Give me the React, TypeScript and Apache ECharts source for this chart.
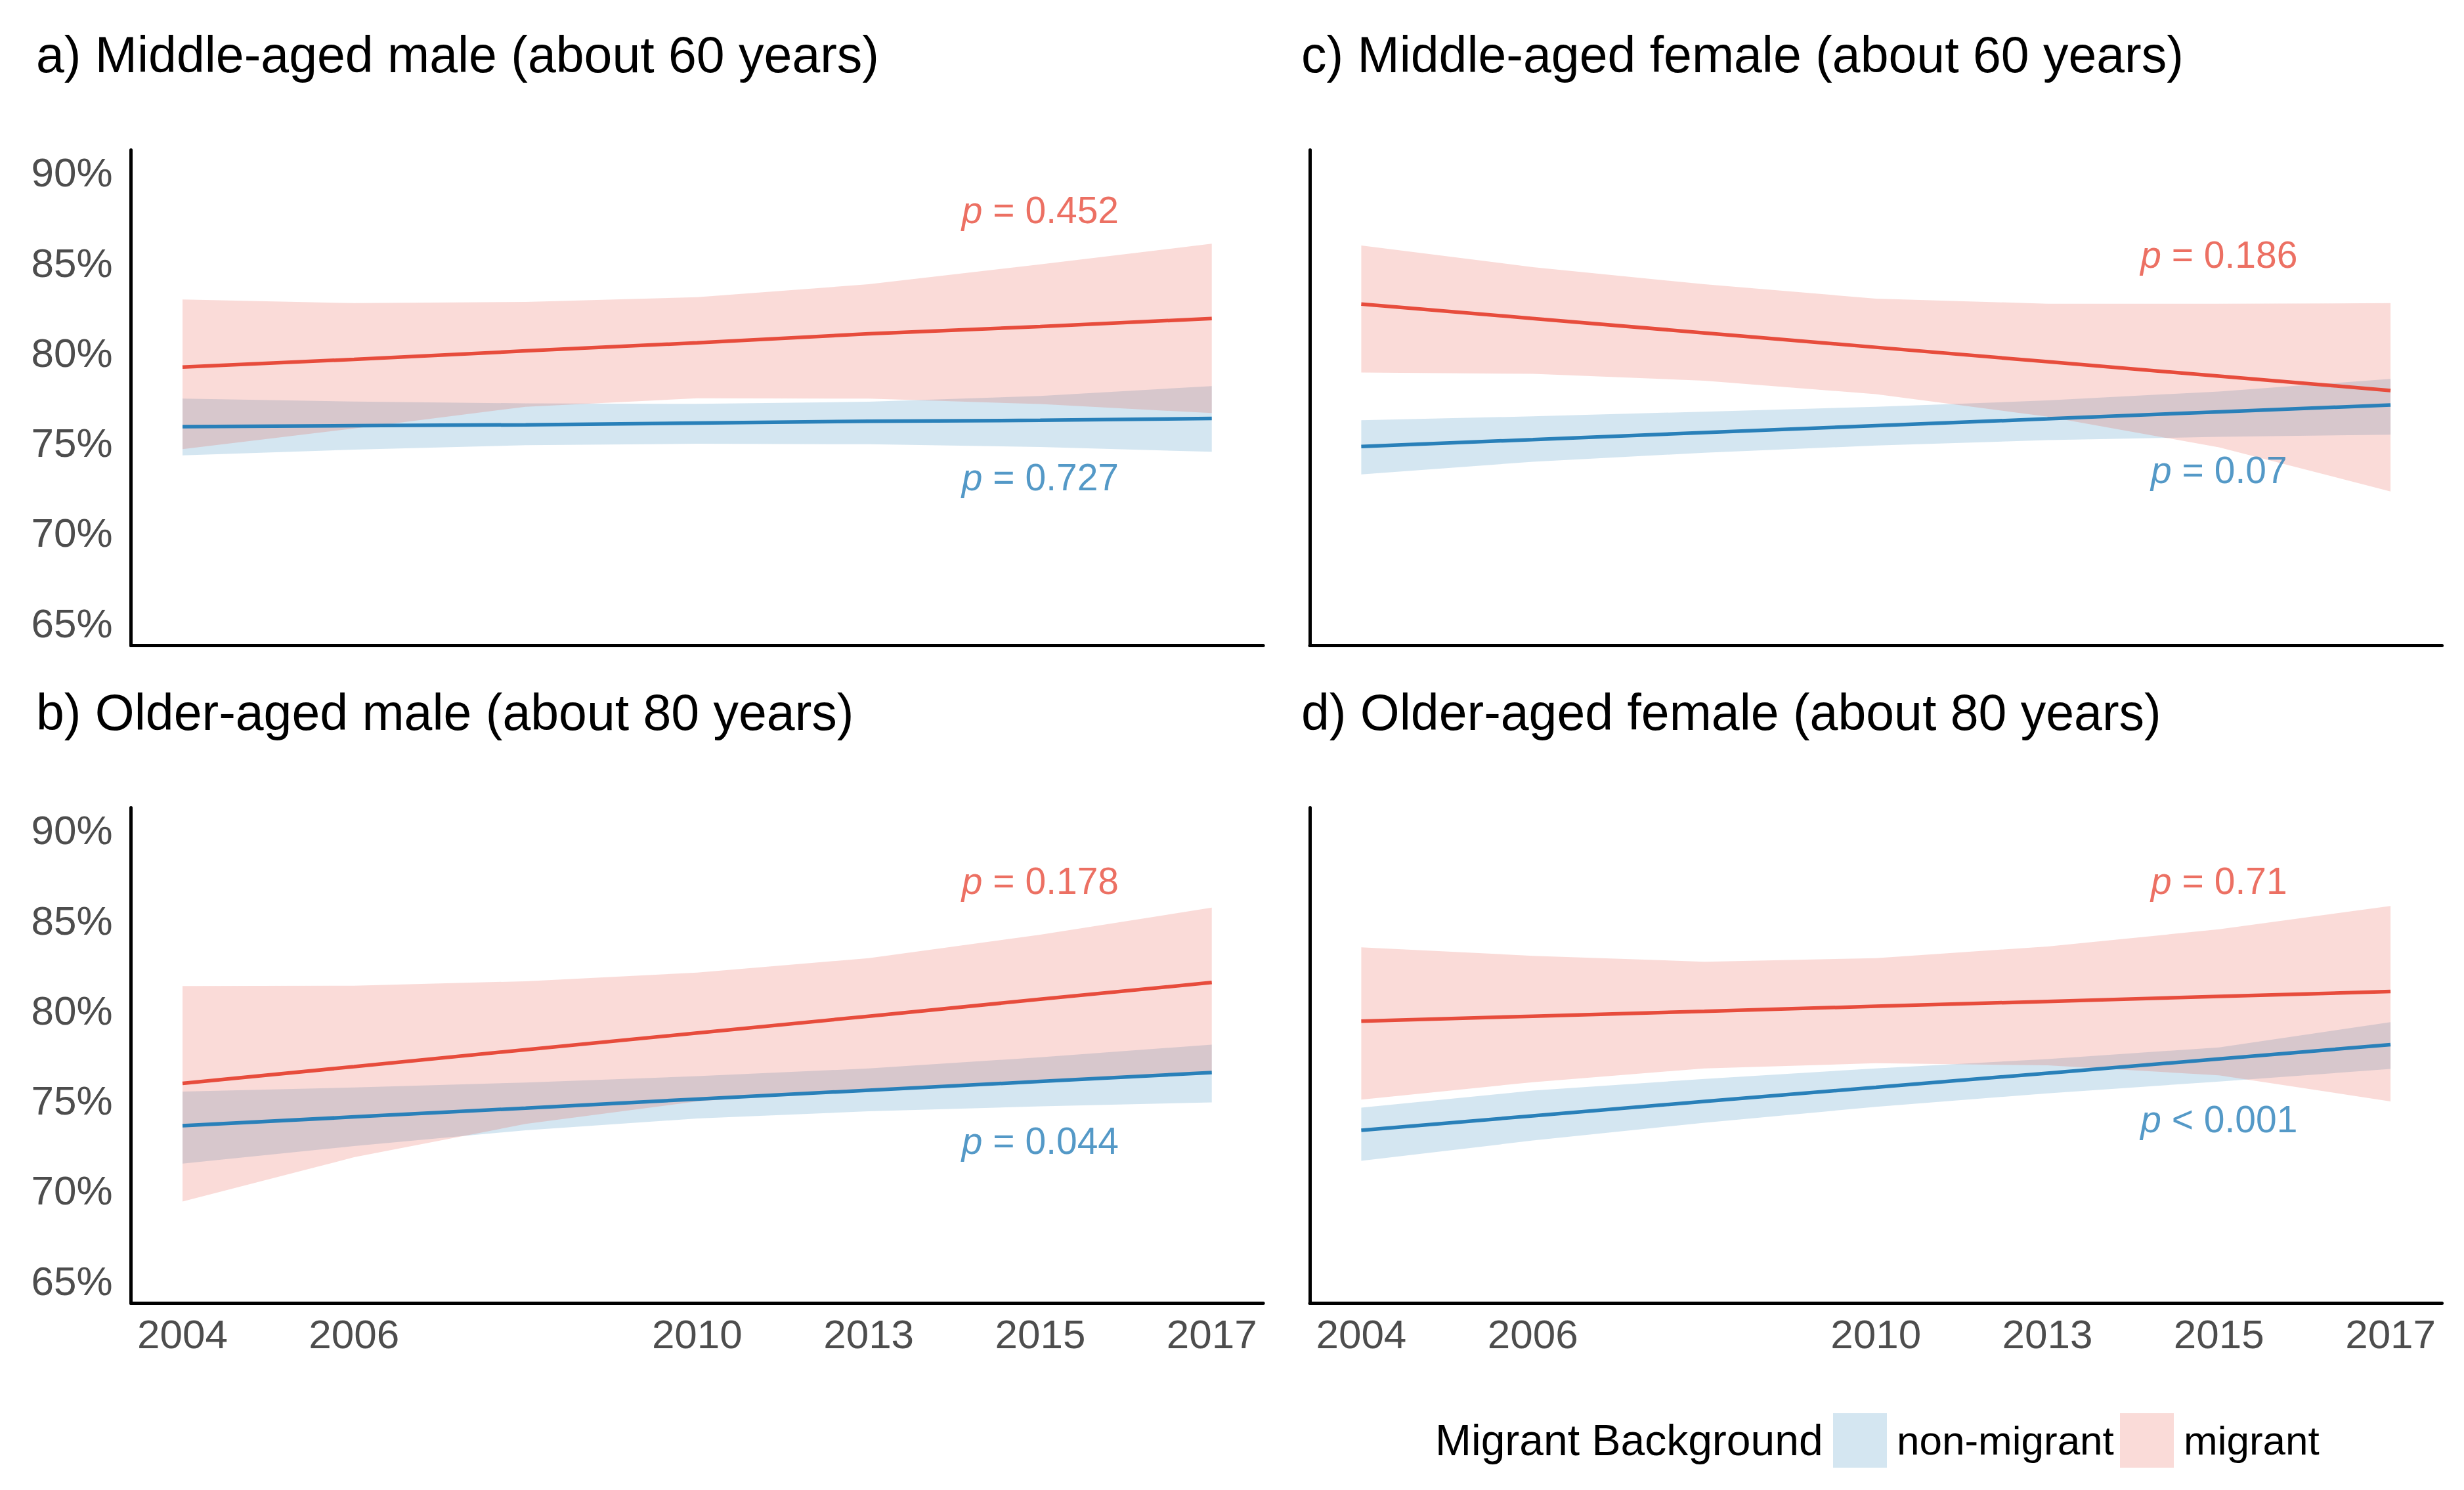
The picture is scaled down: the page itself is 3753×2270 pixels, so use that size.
import React, { useEffect, useRef } from "react";
import * as echarts from "echarts";

// ---------- data ----------
// x positions are survey-wave positions (equally spaced); wave 3 is unlabelled
const waves = [0, 1, 2, 3, 4, 5, 6];
const xTickPos = [0, 1, 3, 4, 5, 6];
const xTickLabels = ["2004", "2006", "2010", "2013", "2015", "2017"];
const yTicks = [65, 70, 75, 80, 85, 90];

// a) Middle-aged male
const aNonMean = [75.9, 75.95, 76.0, 76.1, 76.2, 76.25, 76.35];
const aNonLo = [74.3, 74.62, 74.87, 74.95, 74.92, 74.77, 74.5];
const aNonHi = [77.45, 77.29, 77.19, 77.16, 77.28, 77.6, 78.15];
const aMigMean = [79.2, 79.63, 80.1, 80.55, 81.05, 81.45, 81.9];
const aMigLo = [74.65, 75.8, 77.0, 77.47, 77.45, 77.15, 76.65];
const aMigHi = [82.95, 82.75, 82.82, 83.08, 83.8, 84.9, 86.05];

// b) Older-aged male
const bNonMean = [73.6, 74.09, 74.58, 75.08, 75.57, 76.06, 76.55];
const bNonLo = [71.5, 72.47, 73.35, 74.0, 74.4, 74.68, 74.9];
const bNonHi = [75.5, 75.72, 76.0, 76.35, 76.78, 77.4, 78.1];
const bMigMean = [75.95, 76.88, 77.82, 78.75, 79.68, 80.62, 81.55];
const bMigLo = [69.4, 71.85, 73.7, 74.95, 75.65, 76.15, 76.55];
const bMigHi = [81.35, 81.37, 81.62, 82.1, 82.9, 84.2, 85.7];

// c) Middle-aged female
const cNonMean = [74.8, 75.18, 75.57, 75.95, 76.33, 76.72, 77.1];
const cNonLo = [73.25, 73.95, 74.45, 74.85, 75.15, 75.33, 75.45];
const cNonHi = [76.25, 76.47, 76.73, 77.0, 77.35, 77.85, 78.55];
const cMigMean = [82.7, 81.9, 81.1, 80.3, 79.5, 78.7, 77.9];
const cMigLo = [78.9, 78.83, 78.45, 77.7, 76.45, 74.75, 72.3];
const cMigHi = [85.95, 84.75, 83.8, 83.0, 82.72, 82.72, 82.75];

// d) Older-aged female
const dNonMean = [73.35, 74.15, 74.95, 75.73, 76.52, 77.31, 78.1];
const dNonLo = [71.65, 72.78, 73.77, 74.65, 75.4, 76.05, 76.75];
const dNonHi = [74.6, 75.55, 76.2, 76.78, 77.3, 77.95, 79.35];
const dMigMean = [79.4, 79.68, 79.95, 80.23, 80.5, 80.78, 81.05];
const dMigLo = [75.05, 76.02, 76.78, 77.07, 76.95, 76.4, 74.95];
const dMigHi = [83.5, 83.03, 82.7, 82.9, 83.55, 84.5, 85.8];

// p-value annotations: [text after italic p, y-value]
const pLabelX = 5;
const aPMig = ["= 0.452", 87.9];
const aPNon = ["= 0.727", 73.1];
const bPMig = ["= 0.178", 87.2];
const bPNon = ["= 0.044", 72.75];
const cPMig = ["= 0.186", 85.45];
const cPNon = ["= 0.07", 73.5];
const dPMig = ["= 0.71", 87.2];
const dPNon = ["< 0.001", 73.95];

const titles = [
  "a) Middle-aged male (about 60 years)",
  "b) Older-aged male (about 80 years)",
  "c) Middle-aged female (about 60 years)",
  "d) Older-aged female (about 80 years)",
];
const legendTitle = "Migrant Background";
const legendNames = ["non-migrant", "migrant"];

// ---------- styles ----------
const FONT = "'Liberation Sans', Arial, Helvetica, sans-serif";
const RED = "#E74C3C";
const BLUE = "#2980B9";
const RED_FILL = "rgba(231,76,60,0.2)";
const BLUE_FILL = "rgba(41,128,185,0.2)";

const panels = [
  { title: titles[0], left: 199.6, top: 228.5, showX: false, showY: true, nonMean: aNonMean, nonLo: aNonLo, nonHi: aNonHi, migMean: aMigMean, migLo: aMigLo, migHi: aMigHi, pMig: aPMig, pNon: aPNon, tx: 55, ty: 83 },
  { title: titles[1], left: 199.6, top: 1230.5, showX: true, showY: true, nonMean: bNonMean, nonLo: bNonLo, nonHi: bNonHi, migMean: bMigMean, migLo: bMigLo, migHi: bMigHi, pMig: bPMig, pNon: bPNon, tx: 55, ty: 1085 },
  { title: titles[2], left: 1995, top: 228.5, showX: false, showY: false, nonMean: cNonMean, nonLo: cNonLo, nonHi: cNonHi, migMean: cMigMean, migLo: cMigLo, migHi: cMigHi, pMig: cPMig, pNon: cPNon, tx: 1982, ty: 83 },
  { title: titles[3], left: 1995, top: 1230.5, showX: true, showY: false, nonMean: dNonMean, nonLo: dNonLo, nonHi: dNonHi, migMean: dMigMean, migLo: dMigLo, migHi: dMigHi, pMig: dPMig, pNon: dPNon, tx: 1982, ty: 1085 },
];
const PW = 1724.5;
const PH = 755;

function band(i: number, lo: number[], hi: number[], fill: string, name: string) {
  return {
    type: "custom",
    name,
    xAxisIndex: i,
    yAxisIndex: i,
    coordinateSystem: "cartesian2d",
    silent: true,
    z: 1,
    data: waves.map((w, k) => [w, lo[k], hi[k]]),
    encode: { x: 0, y: [1, 2] },
    renderItem: (params: any, api: any) => {
      if (params.dataIndex !== 0) return null;
      const top = waves.map((w, k) => api.coord([w, hi[k]]));
      const bot = waves.map((w, k) => api.coord([w, lo[k]])).reverse();
      return {
        type: "polygon",
        shape: { points: top.concat(bot) },
        style: { fill, stroke: null },
      };
    },
  };
}

function line(i: number, vals: number[], color: string, name: string) {
  return {
    type: "line",
    name,
    xAxisIndex: i,
    yAxisIndex: i,
    data: waves.map((w, k) => [w, vals[k]]),
    showSymbol: false,
    symbol: "none",
    silent: true,
    z: 3,
    lineStyle: { color, width: 5.5 },
  };
}

function pLabels(i: number, pMig: any[], pNon: any[]) {
  const mk = (p: any[], color: string) => ({
    value: [pLabelX, p[1]],
    label: {
      show: true,
      position: "inside",
      formatter: "{i|p} " + p[0],
      color,
      fontSize: 57,
      fontFamily: FONT,
      rich: { i: { fontStyle: "italic", color, fontSize: 57, fontFamily: FONT } },
    },
  });
  return {
    type: "scatter",
    xAxisIndex: i,
    yAxisIndex: i,
    symbolSize: 1,
    silent: true,
    z: 4,
    itemStyle: { color: "transparent" },
    data: [mk(pMig, RED), mk(pNon, BLUE)],
  };
}

export default function App() {
  const ref = useRef<HTMLDivElement>(null);
  useEffect(() => {
    if (!ref.current) return;
    const chart = echarts.init(ref.current, null, { renderer: "svg" });
    const series: any[] = [];
    panels.forEach((p, i) => {
      series.push(band(i, p.nonLo, p.nonHi, BLUE_FILL, legendNames[0]));
      series.push(band(i, p.migLo, p.migHi, RED_FILL, legendNames[1]));
      series.push(line(i, p.nonMean, BLUE, legendNames[0] + " mean"));
      series.push(line(i, p.migMean, RED, legendNames[1] + " mean"));
      series.push(pLabels(i, p.pMig, p.pNon));
    });
    const graphic: any[] = panels.map((p) => ({
      type: "text",
      x: p.tx,
      y: p.ty,
      style: { text: p.title, fontSize: 77, fontFamily: FONT, fill: "#000", align: "left", verticalAlign: "middle", textVerticalAlign: "middle" },
    }));
    const ly = 2194;
    graphic.push(
      { type: "text", x: 2186, y: ly, style: { text: legendTitle, fontSize: 66, fontFamily: FONT, fill: "#000", verticalAlign: "middle", textVerticalAlign: "middle" } },
      { type: "rect", shape: { x: 2792, y: 2153, width: 82, height: 83 }, style: { fill: BLUE_FILL } },
      { type: "text", x: 2889, y: ly, style: { text: legendNames[0], fontSize: 62, fontFamily: FONT, fill: "#000", verticalAlign: "middle", textVerticalAlign: "middle" } },
      { type: "rect", shape: { x: 3229, y: 2153, width: 82, height: 83 }, style: { fill: RED_FILL } },
      { type: "text", x: 3326, y: ly, style: { text: legendNames[1], fontSize: 62, fontFamily: FONT, fill: "#000", verticalAlign: "middle", textVerticalAlign: "middle" } }
    );
    chart.setOption({
      animation: false,
      backgroundColor: "#fff",
      grid: panels.map((p) => ({ left: p.left, top: p.top, width: PW, height: PH, containLabel: false, outerBoundsMode: "none" })),
      xAxis: panels.map((p, i) => ({
        gridIndex: i,
        type: "value",
        min: -0.3,
        max: 6.3,
        axisLine: { show: true, onZero: false, lineStyle: { color: "#000", width: 5 } },
        axisTick: { show: false },
        splitLine: { show: false },
        axisLabel: {
          show: p.showX,
          customValues: xTickPos,
          formatter: (v: number) => xTickLabels[xTickPos.indexOf(Math.round(v))] ?? "",
          fontSize: 62,
          fontFamily: FONT,
          color: "#4D4D4D",
          margin: 16,
        },
      })),
      yAxis: panels.map((p, i) => ({
        gridIndex: i,
        type: "value",
        min: 63.75,
        max: 91.25,
        axisLine: { show: true, onZero: false, lineStyle: { color: "#000", width: 5 } },
        axisTick: { show: false },
        splitLine: { show: false },
        axisLabel: {
          show: p.showY,
          customValues: yTicks,
          formatter: (v: number) => v + "%",
          fontSize: 62,
          fontFamily: FONT,
          color: "#4D4D4D",
          margin: 28,
        },
      })),
      series,
      graphic,
    });
    return () => chart.dispose();
  }, []);
  return <div ref={ref} style={{ position: "fixed", left: 0, top: 0, width: 3753, height: 2270, background: "#fff" }} />;
}
